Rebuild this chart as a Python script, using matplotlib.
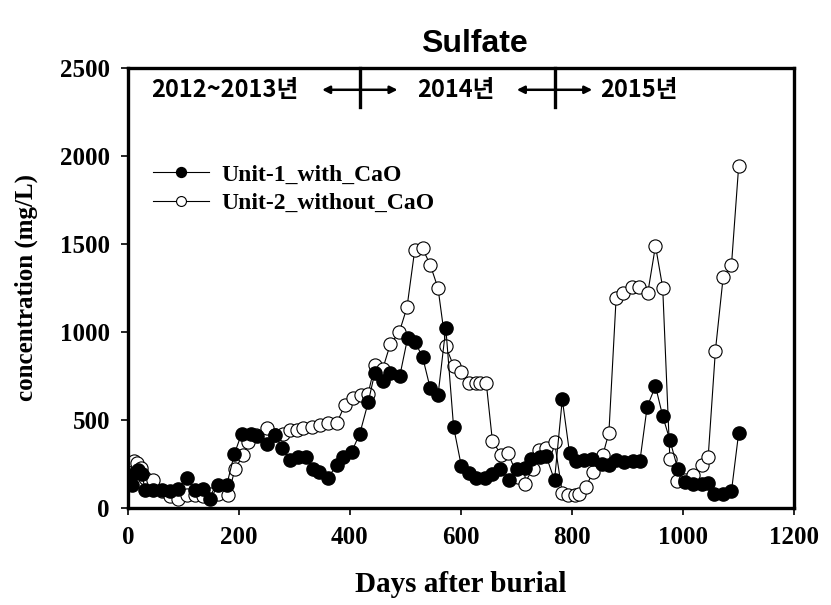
import matplotlib
matplotlib.use("Agg")
import matplotlib.pyplot as plt

# Unit-1 (with CaO), filled markers
days1 = [3, 7, 12, 18, 25, 31, 46, 61, 76, 91, 106, 121, 136, 148, 163, 178, 192, 205, 221, 233,
         250, 265, 278, 292, 307, 321, 333, 345, 360, 376, 388, 403, 418, 433, 445, 459, 473, 490,
         504, 517, 531, 545, 559, 573, 587, 601, 615, 628, 643, 657, 671, 687, 701, 715, 727, 742,
         754, 769, 783, 796, 808, 823, 837, 855, 868, 880, 895, 910, 923, 936, 951, 964, 977, 991,
         1004, 1019, 1034, 1046, 1057, 1072, 1088, 1101]
vals1 = [140, 131, 200, 215, 195, 102, 102, 102, 95, 110, 169, 102, 110, 51, 131, 131, 310, 424, 424, 410,
         367, 415, 339, 273, 290, 290, 220, 205, 170, 244, 290, 318, 424, 600, 769, 723, 765, 750,
         964, 945, 860, 680, 642, 1024, 462, 239, 197, 169, 169, 193, 225, 159, 225, 231, 282, 288,
         295, 159, 618, 314, 269, 273, 277, 250, 244, 273, 260, 270, 270, 576, 693, 523, 386, 225,
         150, 140, 140, 143, 83, 80, 98, 428]

# Unit-2 (without CaO), open markers
days2 = [1, 6, 11, 17, 23, 31, 46, 61, 76, 91, 106, 121, 136, 148, 163, 181, 193, 208, 217, 231,
         250, 265, 280, 292, 304, 316, 331, 346, 361, 376, 391, 406, 421, 433, 445, 459, 473, 489,
         503, 517, 531, 545, 559, 573, 587, 601, 615, 627, 635, 646, 657, 673, 685, 703, 715, 730,
         741, 754, 769, 783, 793, 806, 814, 826, 838, 856, 867, 880, 893, 909, 922, 937, 951, 964,
         977, 990, 1004, 1019, 1034, 1046, 1059, 1073, 1088, 1101]
vals2 = [159, 250, 270, 255, 230, 170, 159, 95, 70, 55, 75, 75, 72, 80, 80, 74, 225, 301, 377, 415,
         453, 415, 424, 443, 443, 453, 462, 471, 481, 481, 585, 623, 642, 651, 812, 788, 932, 998,
         1140, 1466, 1475, 1381, 1248, 920, 807, 775, 712, 712, 712, 708, 382, 301, 314, 178, 140, 225,
         333, 339, 377, 87, 74, 74, 80, 121, 206, 301, 428, 1191, 1220, 1258, 1258, 1220, 1489, 1252,
         277, 155, 159, 188, 244, 291, 894, 1311, 1381, 1943]

period_labels = ["2012~2013년", "2014년", "2015년"]
period_x = [175, 591, 922]
period_bounds = [418, 769]

serif = "Liberation Serif"
kr = ["Noto Sans CJK KR", "DejaVu Sans"]

fig = plt.figure(figsize=(8.31, 6.05), dpi=100)
ax = fig.add_axes([0.154, 0.160, 0.801, 0.728])

ax.plot(days2, vals2, "-", color="black", lw=0.8, marker="o", ms=9.5,
        mfc="white", mec="black", mew=0.8, label="Unit-2_without_CaO", zorder=2)
ax.plot(days1, vals1, "-", color="black", lw=0.8, marker="o", ms=9.5,
        mfc="black", mec="black", label="Unit-1_with_CaO", zorder=3)

ax.set_xlim(0, 1200)
ax.set_ylim(0, 2500)
ax.set_xticks(range(0, 1201, 200))
ax.set_yticks(range(0, 2501, 500))
for s in ax.spines.values():
    s.set_linewidth(2.4)
ax.tick_params(direction="out", length=5, width=1.2, labelsize=18, pad=8)
for lab in ax.get_xticklabels() + ax.get_yticklabels():
    lab.set_fontfamily(serif)
    lab.set_fontweight("bold")

ax.set_xlabel("Days after burial", fontsize=21, fontweight="bold", family=serif, labelpad=16)
ax.set_ylabel("concentration (mg/L)", fontsize=18, fontweight="bold", family=serif, labelpad=16)
fig.text(0.571, 0.928, "Sulfate", fontsize=23, fontweight="bold", family="Liberation Sans",
         ha="center", va="center")

h, l = ax.get_legend_handles_labels()
ax.legend(h[::-1], l[::-1], loc="upper left", bbox_to_anchor=(0.005, 0.83), frameon=False,
          prop={"family": serif, "weight": "bold", "size": 17}, handlelength=2.4,
          handletextpad=0.5, labelspacing=0.3, markerscale=0.75)

for lx, lab in zip(period_x, period_labels):
    ax.text(lx, 2375, lab, fontsize=17, fontweight="bold", family=kr, ha="center", va="center")
for bx in period_bounds:
    ax.plot([bx, bx], [2500, 2280], color="black", lw=2.4, clip_on=False)
    ax.annotate("", xy=(bx - 68, 2375), xytext=(bx + 68, 2375),
                arrowprops=dict(arrowstyle="<|-|>", color="black", lw=1.8,
                                mutation_scale=11, shrinkA=0, shrinkB=0))

fig.savefig("out.png", dpi=100)
